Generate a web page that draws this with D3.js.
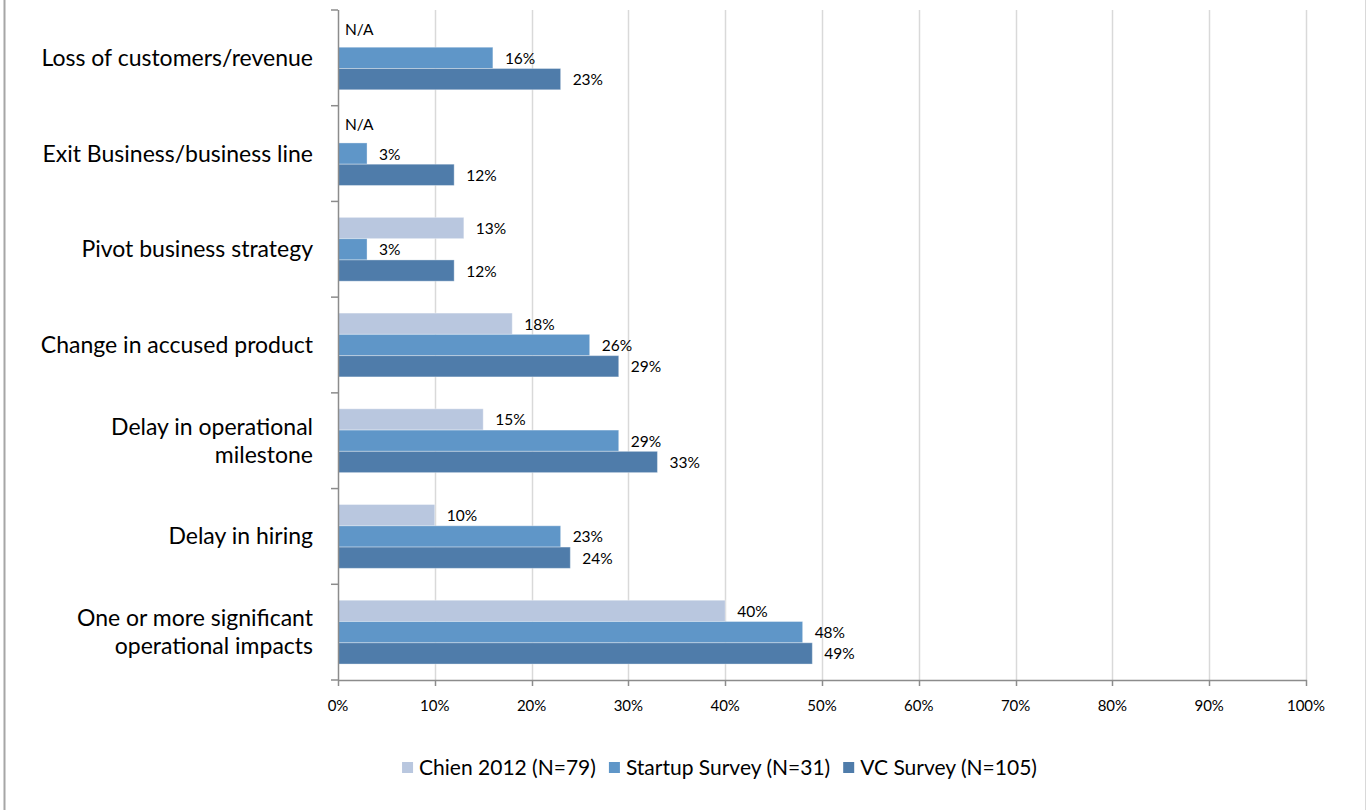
<!DOCTYPE html>
<html>
<head>
<meta charset="utf-8">
<script src="https://cdn.jsdelivr.net/npm/d3@7"></script>
<style>
  html,body{margin:0;padding:0;background:#fff;}
  svg{display:block;font-family:Lato,"Open Sans",sans-serif;}
</style>
</head>
<body>
<div id="chart"></div>
<script>
const categories=[
  ["Loss of customers/revenue"],
  ["Exit Business/business line"],
  ["Pivot business strategy"],
  ["Change in accused product"],
  ["Delay in operational","milestone"],
  ["Delay in hiring"],
  ["One or more significant","operational impacts"]
];
const seriesNames=["Chien 2012 (N=79)","Startup Survey (N=31)","VC Survey (N=105)"];
const chien=[null,null,13,18,15,10,40];
const startup=[16,3,3,26,29,23,48];
const vc=[23,12,12,29,33,24,49];
const xTicks=[0,10,20,30,40,50,60,70,80,90,100];
const colors=["#b9c7df","#5f96c8","#4f7caa"];

const W=1366,H=810;
const svg=d3.select("#chart").append("svg").attr("width",W).attr("height",H);

// outer frame, only the side edges show in the source image
svg.append("line").attr("x1",4.5).attr("x2",4.5).attr("y1",0).attr("y2",H)
  .attr("stroke","#a6a6a6").attr("stroke-width",2);
svg.append("line").attr("x1",1365.5).attr("x2",1365.5).attr("y1",0).attr("y2",H)
  .attr("stroke","#d9d9d9").attr("stroke-width",1);

const m={left:338,right:1306,top:10,bottom:680};
const keys=categories.map((c,i)=>i);
const x=d3.scaleLinear().domain([0,100]).range([m.left,m.right]);
const y=d3.scaleBand().domain(keys).range([m.top,m.bottom]);
const ys=d3.scaleBand().domain([0,1,2]).range([0,y.bandwidth()]).paddingInner(0).paddingOuter(.75);

// grid
svg.append("g").selectAll("line").data(xTicks.slice(1)).join("line")
  .attr("x1",d=>Math.round(x(d))+.5).attr("x2",d=>Math.round(x(d))+.5)
  .attr("y1",m.top).attr("y2",m.bottom)
  .attr("stroke","#d9d9d9").attr("stroke-width",1.5);

// bars
const rows=[chien,startup,vc];
const data=[];
keys.forEach(k=>rows.forEach((r,s)=>data.push({k,s,v:r[k]})));
const g=svg.append("g");
g.selectAll("rect").data(data.filter(d=>d.v!=null)).join("rect")
  .attr("x",x(0)).attr("y",d=>y(d.k)+ys(d.s))
  .attr("width",d=>x(d.v)-x(0)).attr("height",ys.bandwidth())
  .attr("fill",d=>colors[d.s])
  .attr("stroke","rgba(255,255,255,.35)").attr("stroke-width",1);

g.selectAll("text").data(data).join("text")
  .attr("x",d=>d.v==null?x(0)+7:x(d.v)+12)
  .attr("y",d=>y(d.k)+ys(d.s)+ys.bandwidth()/2+(d.v==null?-2:6))
  .attr("font-size",15.5).attr("fill","#000")
  .text(d=>d.v==null?"N/A":d.v+"%");

// y axis
svg.append("line").attr("x1",m.left+.5).attr("x2",m.left+.5).attr("y1",m.top).attr("y2",m.bottom)
  .attr("stroke","#8c8c8c").attr("stroke-width",1.5);
svg.append("g").selectAll("line").data(d3.range(categories.length+1)).join("line")
  .attr("x1",m.left-7).attr("x2",m.left)
  .attr("y1",d=>m.top+d*y.step()).attr("y2",d=>m.top+d*y.step())
  .attr("stroke","#8c8c8c").attr("stroke-width",1.5);

// category labels
const cl=svg.append("g").selectAll("text").data(keys).join("text")
  .attr("text-anchor","end").attr("font-size",23).attr("fill","#000")
  .attr("x",313)
  .attr("y",d=>y(d)+y.bandwidth()/2+8-(categories[d].length-1)*14);
cl.selectAll("tspan").data(d=>categories[d]).join("tspan")
  .attr("x",313).attr("dy",(d,i)=>i?28:0).text(d=>d);

// x axis
svg.append("line").attr("x1",m.left).attr("x2",m.right+1).attr("y1",m.bottom+.5).attr("y2",m.bottom+.5)
  .attr("stroke","#8c8c8c").attr("stroke-width",1.5);
svg.append("g").selectAll("line").data(xTicks).join("line")
  .attr("x1",d=>Math.round(x(d))+.5).attr("x2",d=>Math.round(x(d))+.5)
  .attr("y1",m.bottom).attr("y2",m.bottom+6)
  .attr("stroke","#8c8c8c").attr("stroke-width",1.5);
svg.append("g").selectAll("text").data(xTicks).join("text")
  .attr("x",d=>x(d)).attr("y",711).attr("text-anchor","middle")
  .attr("font-size",15).attr("fill","#000")
  .text(d=>d+"%");

// legend
const lg=svg.append("g");
const items=lg.selectAll("g").data(seriesNames).join("g");
items.append("rect").attr("width",11).attr("height",11).attr("y",-13)
  .attr("fill",(d,i)=>colors[i]);
items.append("text").attr("x",17).attr("y",0).attr("font-size",21).attr("fill","#000").text(d=>d);
let off=0;
items.each(function(){
  const w=this.getBBox().width;
  d3.select(this).attr("transform",`translate(${off},775)`);
  off+=w+13;
});
const total=off-13;
lg.attr("transform",`translate(${(401+1038)/2-total/2},0)`);
</script>
</body>
</html>
